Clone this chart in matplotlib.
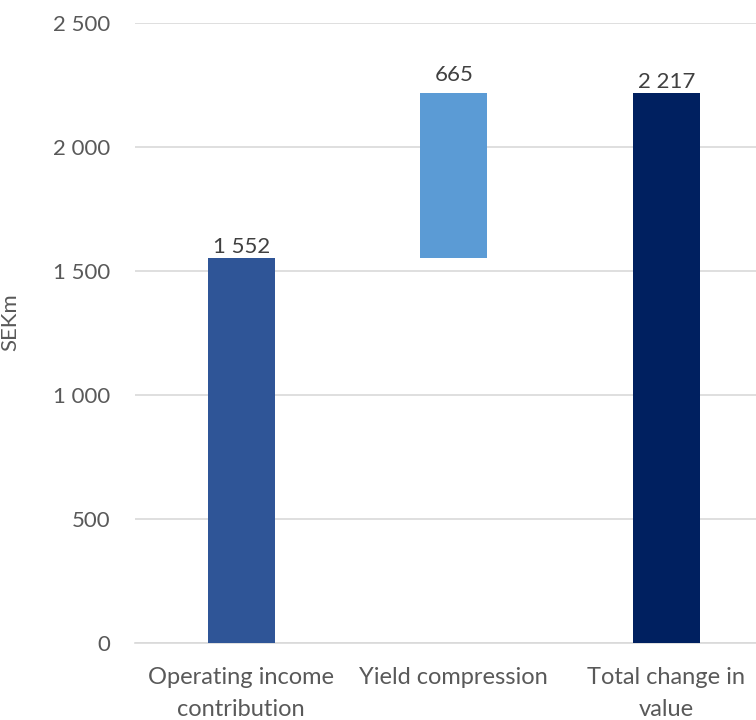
import matplotlib.pyplot as plt
from matplotlib.ticker import FuncFormatter

# --- data ---
categories = ["Operating income\ncontribution", "Yield compression", "Total change in\nvalue"]
values = [1552, 665, 2217]
bases = [0, 1552, 0]
labels = ["1 552", "665", "2 217"]
colors = ["#2F5597", "#5B9BD5", "#002060"]
label_pad = [1, 6, 1]  # points above bar top

plt.rcParams['font.family'] = ['Lato', 'DejaVu Sans']
FS = 16

fig = plt.figure(figsize=(7.56, 7.2), dpi=100)
ax = fig.add_axes([135 / 756, 77 / 720, 637.5 / 756, 620 / 720])

x = range(len(categories))
bars = ax.bar(x, values, bottom=bases, width=0.315, color=colors, zorder=3)

for rect, lab, pad in zip(bars, labels, label_pad):
    ax.annotate(lab, (rect.get_x() + rect.get_width() / 2, rect.get_y() + rect.get_height()),
                xytext=(0, pad), textcoords="offset points", ha="center", va="bottom",
                fontsize=FS, color="#404040")

ax.set_xlim(-0.5, 2.5)
ax.set_ylim(0, 2500)
ax.set_yticks(range(0, 2501, 500))
ax.yaxis.set_major_formatter(FuncFormatter(lambda v, p: f"{int(v):,}".replace(",", " ")))
ax.set_xticks(list(x))
ax.set_xticklabels(categories, linespacing=1.65, fontsize=17)
ax.tick_params(axis="both", length=0, labelcolor="#595959")
ax.tick_params(axis="y", pad=18, labelsize=FS)
ax.tick_params(axis="x", pad=17)

ax.grid(axis="y", color="#D9D9D9", linewidth=1.2, zorder=0)
for s in ["top", "right", "left"]:
    ax.spines[s].set_visible(False)
ax.spines["bottom"].set_color("#D9D9D9")
ax.spines["bottom"].set_linewidth(1.2)

ax.set_ylabel("SEKm", fontsize=FS, color="#595959")
ax.yaxis.set_label_coords(-0.18, 0.518)

fig.savefig("out.png", dpi=100)
